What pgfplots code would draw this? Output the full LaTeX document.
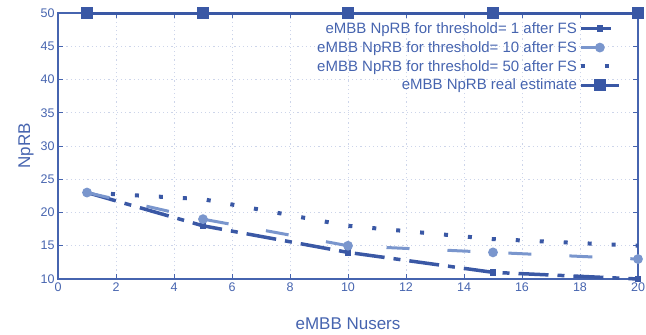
\documentclass[border=0pt]{standalone}
\usepackage{fontspec}
\setmainfont{Liberation Sans}
\usepackage{pgfplots}
\pgfplotsset{compat=1.18}
\definecolor{dblue}{RGB}{58,88,165}
\definecolor{lblue}{RGB}{122,150,205}
\definecolor{tblue}{RGB}{70,100,175}
\definecolor{gridc}{RGB}{205,213,234}
\begin{document}
\begin{tikzpicture}
\begin{axis}[
 scale only axis, width=580pt, height=266pt,
 xmin=0, xmax=20, ymin=10, ymax=50,
 xtick={0,2,...,20}, ytick={10,15,...,50},
 axis line style={tblue, line width=1.2pt},
 tick style={tblue, line width=0.8pt},
 tick align=inside, major tick length=5pt,
 grid=major, grid style={gridc, dash pattern=on 1.2pt off 3pt, line width=0.7pt},
 ticklabel style={font=\fontsize{12.5}{14}\selectfont, text=tblue},
 /pgf/number format/assume math mode=true,
 xlabel={eMBB Nusers}, ylabel={NpRB},
 xlabel style={font=\fontsize{17}{19}\selectfont, text=tblue, yshift=-20pt},
 ylabel style={font=\fontsize{17}{19}\selectfont, text=tblue, xshift=0pt},
 legend style={draw=none, fill=none, at={(rel axis cs:0.976,0.98)}, anchor=north east,
   font=\fontsize{15}{17}\selectfont, text=tblue, row sep=2.5pt,
   /tikz/every even column/.append style={column sep=3pt}},
 legend cell align=right,
 legend plot pos=right,
 legend image code/.code={\draw[mark repeat=2,mark phase=2] plot coordinates {(0pt,0pt) (19pt,0pt) (38pt,0pt)};},
 clip=false,
]
\addplot[dblue, line width=3.5pt, dash pattern=on 30pt off 9pt on 7pt off 9pt,
  mark=square*, mark size=1.5pt, mark options={solid}]
  coordinates {(1,23) (5,18) (10,14) (15,11) (20,10)};
\addlegendentry{eMBB NpRB for threshold= 1 after FS}
\addplot[lblue, line width=3pt, dash pattern=on 23pt off 38pt,
  mark=*, mark size=3.3pt, mark options={solid}]
  coordinates {(1,23) (5,19) (10,15) (15,14) (20,13)};
\addlegendentry{eMBB NpRB for threshold= 10 after FS}
\addplot[dblue, line width=4pt, dash pattern=on 4pt off 20pt]
  coordinates {(1,23) (5,22) (10,18) (15,16) (20,15)};
\addlegendentry{eMBB NpRB for threshold= 50 after FS}
\addplot[dblue, line width=3pt, mark=square*, mark size=4.5pt, mark options={solid}]
  coordinates {(1,50) (5,50) (10,50) (15,50) (20,50)};
\addlegendentry{eMBB NpRB real estimate}
\coordinate (SW) at (rel axis cs:0,0);
\coordinate (NE) at (rel axis cs:1,1);
\end{axis}
\path (SW) ++(-58pt,-56pt) coordinate (a);
\path (NE) ++(8pt,13pt) coordinate (b);
\pgfresetboundingbox
\path (a) rectangle (b);
\end{tikzpicture}
\end{document}
